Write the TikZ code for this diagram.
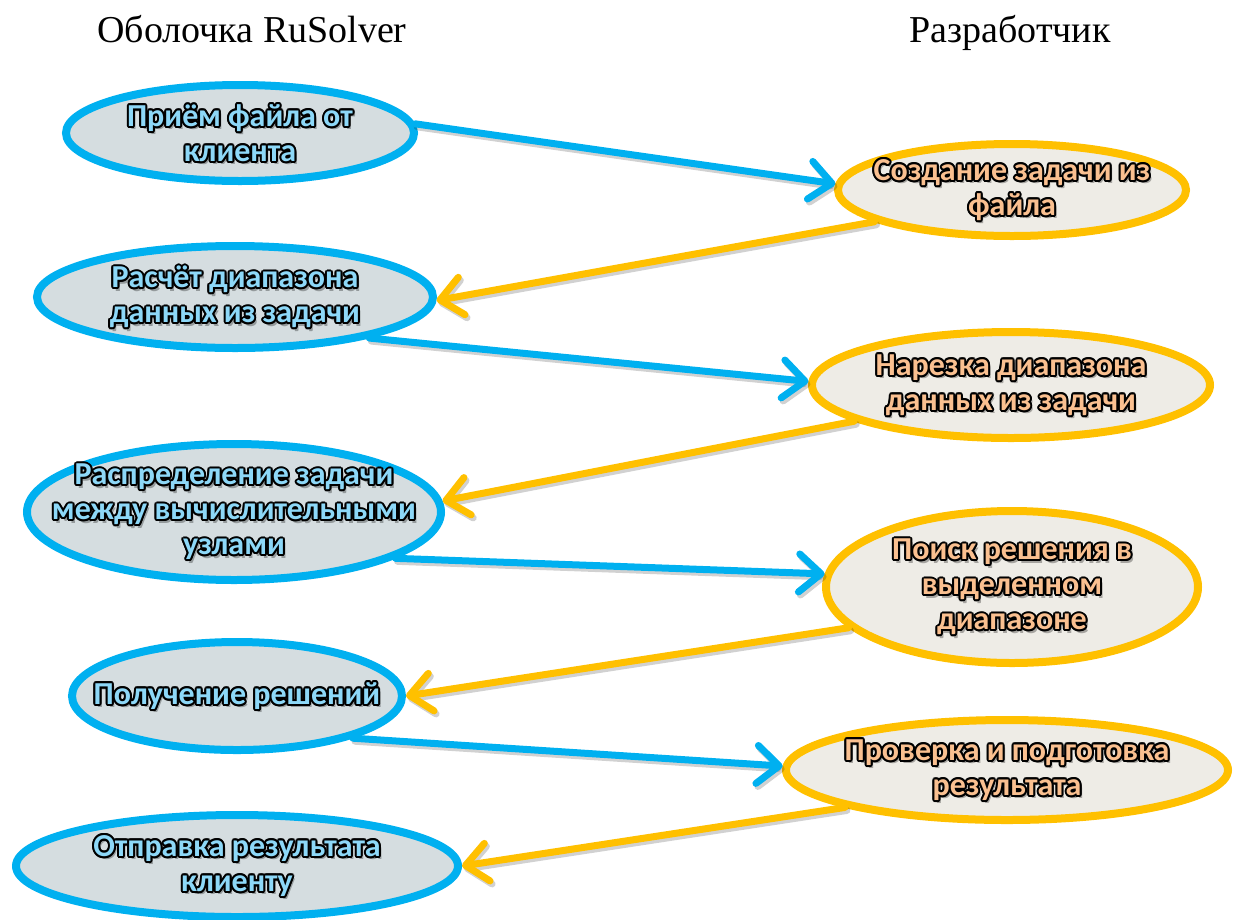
\documentclass[tikz,border=0pt]{standalone}
\usepackage{fontspec}
\setmainfont{Liberation Serif}
\newfontfamily\boxfont{Carlito}
\usetikzlibrary{shapes.geometric,arrows.meta,shadows}
\definecolor{cblue}{HTML}{00B0F0}
\definecolor{corange}{HTML}{FFC000}
\definecolor{lfill}{HTML}{D5DDE0}
\definecolor{rfill}{HTML}{EEECE6}
\definecolor{tblue}{HTML}{8DD8F8}
\definecolor{torange}{HTML}{FAC090}
\newcommand\olabel[4]{%
  \node[txt,text=black,opacity=.3] at ([shift={(2.5pt,-3.5pt)}]#2.center) {#4};
  \foreach \a in {0,30,...,330}{\node[txt,text=black] at ([shift={(\a:2pt)}]#2.center) {#4};}
  \node[txt,text=#3] (#1) at (#2.center) {#4};
}
\begin{document}
\begin{tikzpicture}[x=1pt,y=-1pt,
  ellbase/.style={ellipse, line width=8pt, inner sep=0pt,
     drop shadow={shadow xshift=2pt, shadow yshift=-3pt, opacity=.25}},
  lell/.style={ellbase, draw=cblue, fill=lfill},
  rell/.style={ellbase, draw=corange, fill=rfill},
  txt/.style={font=\boxfont\bfseries\fontsize{32}{35}\selectfont, align=center, inner sep=0pt},
  head/.style={font=\fontsize{38}{40}\selectfont, anchor=base, inner sep=0pt},
  conn/.style={line width=7pt, line cap=round, -{Straight Barb[length=22pt,width=38pt,round]}},
  barrow/.style={conn, draw=cblue},
  oarrow/.style={conn, draw=corange},
  shline/.style={conn, draw=black, opacity=.18, transform canvas={shift={(2pt,-3pt)}}}
]
\useasboundingbox (0,0) rectangle (1238,919);

\node[head] (h1) at (252,42) {Оболочка RuSolver};
\node[head] (h2) at (1010,42) {Разработчик};

\node[lell, minimum width=348pt, minimum height=96pt]  (L1) at (240,133) {};
\node[lell, minimum width=396pt, minimum height=102pt] (L2) at (235,297) {};
\node[lell, minimum width=414pt, minimum height=136pt] (L3) at (234,512) {};
\node[lell, minimum width=330pt, minimum height=108pt] (L4) at (237,696) {};
\node[lell, minimum width=442pt, minimum height=102pt] (L5) at (237,866) {};
\node[rell, minimum width=348pt, minimum height=92pt]  (R1) at (1012,190) {};
\node[rell, minimum width=398pt, minimum height=106pt] (R2) at (1011,385) {};
\node[rell, minimum width=372pt, minimum height=152pt] (R3) at (1012,587) {};
\node[rell, minimum width=442pt, minimum height=100pt] (R4) at (1007,770) {};

\foreach \s/\t in {L1.3/R1.178, L2.-17/R2.179, L3.-16/R3.176, L4.-20/R4.179,
                   R1.193/L2.-1, R2.193/L3.3, R3.194/L4.0, R4.193/L5.0}
  {\draw[shline] (\s) -- (\t);}
\draw[barrow] (L1.3) -- (R1.178);
\draw[oarrow] (R1.193) -- (L2.-1);
\draw[barrow] (L2.-17) -- (R2.179);
\draw[oarrow] (R2.193) -- (L3.3);
\draw[barrow] (L3.-16) -- (R3.176);
\draw[oarrow] (R3.194) -- (L4.0);
\draw[barrow] (L4.-20) -- (R4.179);
\draw[oarrow] (R4.193) -- (L5.0);

\olabel{T1}{L1}{tblue}{Приём файла от\\клиента}
\olabel{T2}{L2}{tblue}{Расчёт диапазона\\данных из задачи}
\olabel{T3}{L3}{tblue}{Распределение задачи\\между вычислительными\\узлами}
\olabel{T4}{L4}{tblue}{Получение решений}
\olabel{T5}{L5}{tblue}{Отправка результата\\клиенту}
\olabel{U1}{R1}{torange}{Создание задачи из\\файла}
\olabel{U2}{R2}{torange}{Нарезка диапазона\\данных из задачи}
\olabel{U3}{R3}{torange}{Поиск решения в\\выделенном\\диапазоне}
\olabel{U4}{R4}{torange}{Проверка и подготовка\\результата}
\end{tikzpicture}
\end{document}
